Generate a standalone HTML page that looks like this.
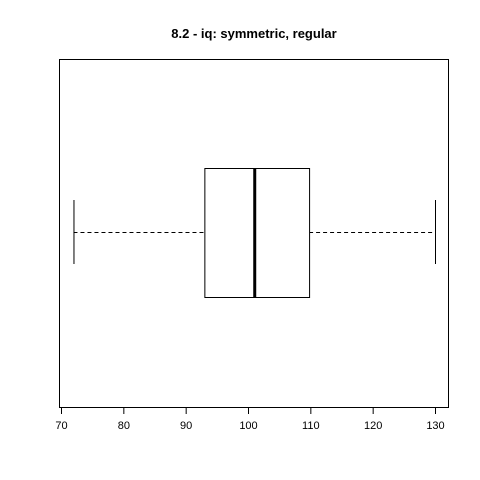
<!DOCTYPE html>
<html><head><meta charset="utf-8"><style>body{margin:0;background:#fff}svg{display:block}</style></head>
<body>
<svg width="480" height="480" viewBox="0 0 480 480" xmlns="http://www.w3.org/2000/svg" font-family="Liberation Sans, Arial, sans-serif">
<rect x="0" y="0" width="480" height="480" fill="#fff"/>
<text x="254" y="38" text-anchor="middle" font-size="13" font-weight="bold">8.2 - iq: symmetric, regular</text>
<rect x="59.5" y="59.5" width="389" height="348" fill="none" stroke="#000"/>
<g id="axis"></g>
<g id="box"></g>
</svg>
<script>
const ticks=[70,80,90,100,110,120,130];
const stats=[72,93,101,109.8,130]; // min, q1, median, q3, max
const ns="http://www.w3.org/2000/svg";
function X(v){return 61+(v-70)*(435-61)/60;}
function mk(t,a,p){const e=document.createElementNS(ns,t);for(const k in a)e.setAttribute(k,a[k]);p.appendChild(e);return e;}
const ax=document.getElementById('axis');
const axl=mk('line',{x1:X(ticks[0]),x2:X(ticks[ticks.length-1]),y1:407.5,y2:407.5,stroke:'#000'},ax);


ticks.forEach(t=>{
 const l=mk('line',{x1:X(t)+0.5,x2:X(t)+0.5,y1:407,y2:414,stroke:'#000'},ax);
 
 
 const tx=mk('text',{x:X(t)+0.5,y:429,'text-anchor':'middle','font-size':'11'},ax);
 tx.textContent=t;
 
 
});
const b=document.getElementById('box');
const yc=232.5,yt=168.5,yb=297.5,wt=200,wb=264;
const w1=mk('line',{x1:X(stats[0]),x2:X(stats[1]),y1:yc,y2:yc,stroke:'#000','stroke-dasharray':'4,3'},b);


const w2=mk('line',{x1:X(stats[3]),x2:X(stats[4]),y1:yc,y2:yc,stroke:'#000','stroke-dasharray':'4,3'},b);


const c1=mk('line',{x1:X(stats[0])+0.5,x2:X(stats[0])+0.5,y1:wt,y2:wb,stroke:'#000'},b);


const c2=mk('line',{x1:X(stats[4])+0.5,x2:X(stats[4])+0.5,y1:wt,y2:wb,stroke:'#000'},b);


const r=mk('rect',{x:X(stats[1])+0.5,y:yt,width:X(stats[3])-X(stats[1]),height:yb-yt,fill:'#fff',stroke:'#000'},b);


const m=mk('line',{x1:X(stats[2])+0.5,x2:X(stats[2])+0.5,y1:yt,y2:yb,stroke:'#000','stroke-width':3},b);


</script>
</body></html>
